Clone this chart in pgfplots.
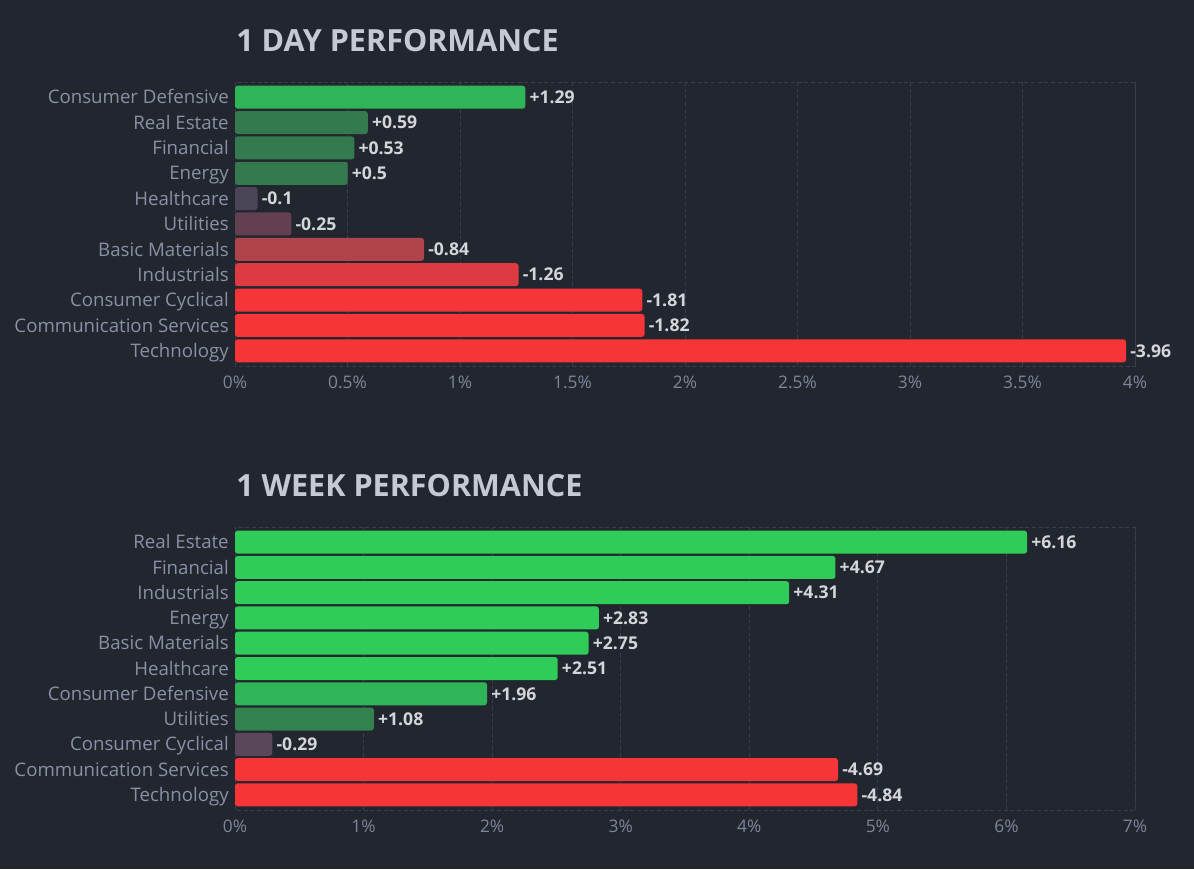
\documentclass[border=0pt]{standalone}
\usepackage{pgfplots}
\pgfplotsset{compat=1.18}
\usepackage{fontspec}
\setmainfont{Open Sans}

\definecolor{bg}{HTML}{22262F}
\definecolor{gridc}{HTML}{3A3E4C}
\definecolor{labc}{HTML}{8A90A6}
\definecolor{tickc}{HTML}{7F859B}
\definecolor{valc}{HTML}{D4D5DC}
\definecolor{titc}{HTML}{C6C8D4}
\definecolor{gBright}{HTML}{30CC5A}
\definecolor{gMid}{HTML}{2FB457}
\definecolor{gDim}{HTML}{357A4F}
\definecolor{gDim2}{HTML}{31824E}
\definecolor{nGrey}{HTML}{4C4557}
\definecolor{nPurp}{HTML}{633F52}
\definecolor{nPurp2}{HTML}{5A4759}
\definecolor{rDim}{HTML}{B0444B}
\definecolor{rMid}{HTML}{DD3B41}
\definecolor{rBright}{HTML}{F63538}

\pgfplotsset{
  perf/.style={
    scale only axis,
    width=675pt,
    anchor=south west,
    xbar, bar width=17.25pt, bar shift=0pt,
    ymin=-0.6, ymax=10.6,
    ytick={0,...,10},
    xmin=0,
    axis line style={draw=gridc, dash pattern=on 3pt off 2pt, line width=0.6pt},
    xmajorgrids,
    grid style={draw=gridc, dash pattern=on 3pt off 2pt, line width=0.6pt},
    major tick length=0pt,
    yticklabel style={font=\fontsize{14}{16}\selectfont, text=labc, inner sep=0pt,
      anchor=base east, xshift=-4.5pt, yshift=-5pt},
    xticklabel style={font=\fontsize{13}{15}\selectfont, text=tickc, inner sep=0pt, yshift=-7pt},
    point meta=explicit symbolic,
    nodes near coords,
    nodes near coords style={font=\fontsize{13.2}{16}\selectfont\bfseries, text=valc,
      anchor=base west, inner sep=0pt, xshift=3pt, yshift=-4.7pt},
  },
  bar/.style={fill=#1, draw=none, rounded corners=2pt},
}

\begin{document}
\begin{tikzpicture}[x=1pt,y=1pt]
\fill[bg] (0,0) rectangle (895.5,651.75);

% 1 day
\begin{axis}[perf, at={(176.25pt,377.25pt)}, height=213pt,
    xmax=4, xtick={0,0.5,...,4},
    xticklabels={0\%,0.5\%,1\%,1.5\%,2\%,2.5\%,3\%,3.5\%,4\%},
    yticklabels={Technology,Communication Services,Consumer Cyclical,Industrials,Basic Materials,Utilities,Healthcare,Energy,Financial,Real Estate,Consumer Defensive}]
\addplot[bar=gMid]    coordinates {(1.29,10) [+1.29]};
\addplot[bar=gDim]    coordinates {(0.59,9) [+0.59]};
\addplot[bar=gDim]    coordinates {(0.53,8) [+0.53]};
\addplot[bar=gDim]    coordinates {(0.50,7) [+0.5]};
\addplot[bar=nGrey]   coordinates {(0.10,6) [-0.1]};
\addplot[bar=nPurp]   coordinates {(0.25,5) [-0.25]};
\addplot[bar=rDim]    coordinates {(0.84,4) [-0.84]};
\addplot[bar=rMid]    coordinates {(1.26,3) [-1.26]};
\addplot[bar=rBright] coordinates {(1.81,2) [-1.81]};
\addplot[bar=rBright] coordinates {(1.82,1) [-1.82]};
\addplot[bar=rBright] coordinates {(3.96,0) [-3.96]};
\end{axis}

% 1 week
\begin{axis}[perf, at={(176.25pt,44.25pt)}, height=212.25pt,
    xmax=7, xtick={0,1,...,7},
    xticklabels={0\%,1\%,2\%,3\%,4\%,5\%,6\%,7\%},
    yticklabels={Technology,Communication Services,Consumer Cyclical,Utilities,Consumer Defensive,Healthcare,Basic Materials,Energy,Industrials,Financial,Real Estate}]
\addplot[bar=gBright] coordinates {(6.16,10) [+6.16]};
\addplot[bar=gBright] coordinates {(4.67,9) [+4.67]};
\addplot[bar=gBright] coordinates {(4.31,8) [+4.31]};
\addplot[bar=gBright] coordinates {(2.83,7) [+2.83]};
\addplot[bar=gBright] coordinates {(2.75,6) [+2.75]};
\addplot[bar=gBright] coordinates {(2.51,5) [+2.51]};
\addplot[bar=gMid]    coordinates {(1.96,4) [+1.96]};
\addplot[bar=gDim2]   coordinates {(1.08,3) [+1.08]};
\addplot[bar=nPurp2]  coordinates {(0.29,2) [-0.29]};
\addplot[bar=rBright] coordinates {(4.69,1) [-4.69]};
\addplot[bar=rBright] coordinates {(4.84,0) [-4.84]};
\end{axis}

\node[anchor=base west, inner sep=0pt, text=titc, font=\fontsize{22.9}{28}\selectfont\bfseries] at (177,612.75) {1 DAY PERFORMANCE};
\node[anchor=base west, inner sep=0pt, text=titc, font=\fontsize{22.9}{28}\selectfont\bfseries] at (177,279.75) {1 WEEK PERFORMANCE};
\end{tikzpicture}
\end{document}
